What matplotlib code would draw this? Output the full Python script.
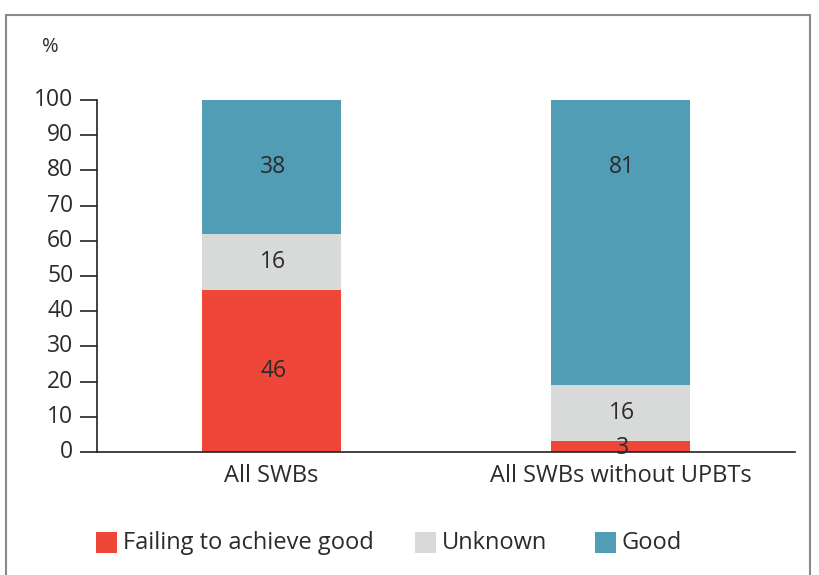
import matplotlib
matplotlib.use("Agg")
import matplotlib.pyplot as plt
from matplotlib.patches import Rectangle
import matplotlib.transforms as mtransforms

plt.rcParams['font.family'] = ['Open Sans', 'DejaVu Sans']

categories = ["All SWBs", "All SWBs without UPBTs"]
failing = [46, 3]
unknown = [16, 16]
good = [38, 81]
series_names = ["Failing to achieve good", "Unknown", "Good"]
colors = ["#EF463A", "#D8D9D9", "#529DB6"]
yticks = [0, 10, 20, 30, 40, 50, 60, 70, 80, 90, 100]

W, H = 820, 575
fig = plt.figure(figsize=(W/100, H/100), dpi=100)
ax = fig.add_axes([97/W, 1-452/H, (795-97)/W, (452-100)/H])

FS = 16.5
text_color = "#2b2b2b"
x = list(range(len(categories)))
series = [failing, unknown, good]
bottoms = [0]*len(categories)
for vals, col in zip(series, colors):
    ax.bar(x, vals, width=0.4, bottom=bottoms, color=col, edgecolor='none')
    for i, v in enumerate(vals):
        yc = bottoms[i] + v/2
        if v > 70:
            yc = bottoms[i] + v - 19
        if v < 5:
            yc = bottoms[i] + v/2 - 0.5
        ax.text(x[i] + 0.005, yc, str(v), ha='center', va='center', fontsize=FS, color=text_color)
    bottoms = [b + v for b, v in zip(bottoms, vals)]

ax.set_xlim(-0.5, 1.5)
ax.set_ylim(0, 100)
ax.set_yticks(yticks)
ax.set_yticklabels([str(t) for t in yticks], fontsize=FS, color=text_color)
ax.set_xticks(x)
ax.set_xticklabels(categories, fontsize=17, color=text_color)
ax.tick_params(axis='y', length=12, width=1.2, pad=5, color='#222222')
ax.tick_params(axis='x', length=0, pad=9)
offset = mtransforms.ScaledTranslation(0, 3/100, fig.dpi_scale_trans)
for lab in ax.get_yticklabels():
    lab.set_transform(lab.get_transform() + offset)
for s in ['top', 'right']:
    ax.spines[s].set_visible(False)
for s in ['left', 'bottom']:
    ax.spines[s].set_linewidth(1.2)
    ax.spines[s].set_color('#222222')

fig.text(42/W, 1-47/H, "%", fontsize=14.5, color=text_color, va='center', ha='left')

# legend drawn manually in figure pixel positions
legend_x = [96, 415, 595]
leg_y = 542
sq = 21
for name, col, lx in zip(series_names, colors, legend_x):
    fig.add_artist(Rectangle((lx/W, 1-(leg_y+sq/2)/H), sq/W, sq/H, transform=fig.transFigure,
                             facecolor=col, edgecolor='none'))
    fig.text((lx+sq+6)/W, 1-(leg_y+1)/H, name, fontsize=17, color=text_color, va='center', ha='left')

fig.add_artist(Rectangle((6/W, -0.1), (810-6)/W, 1.1 - 15/H, transform=fig.transFigure,
                         fill=False, edgecolor='#8a8a8a', linewidth=1.5))

fig.savefig("out.png", dpi=100)
